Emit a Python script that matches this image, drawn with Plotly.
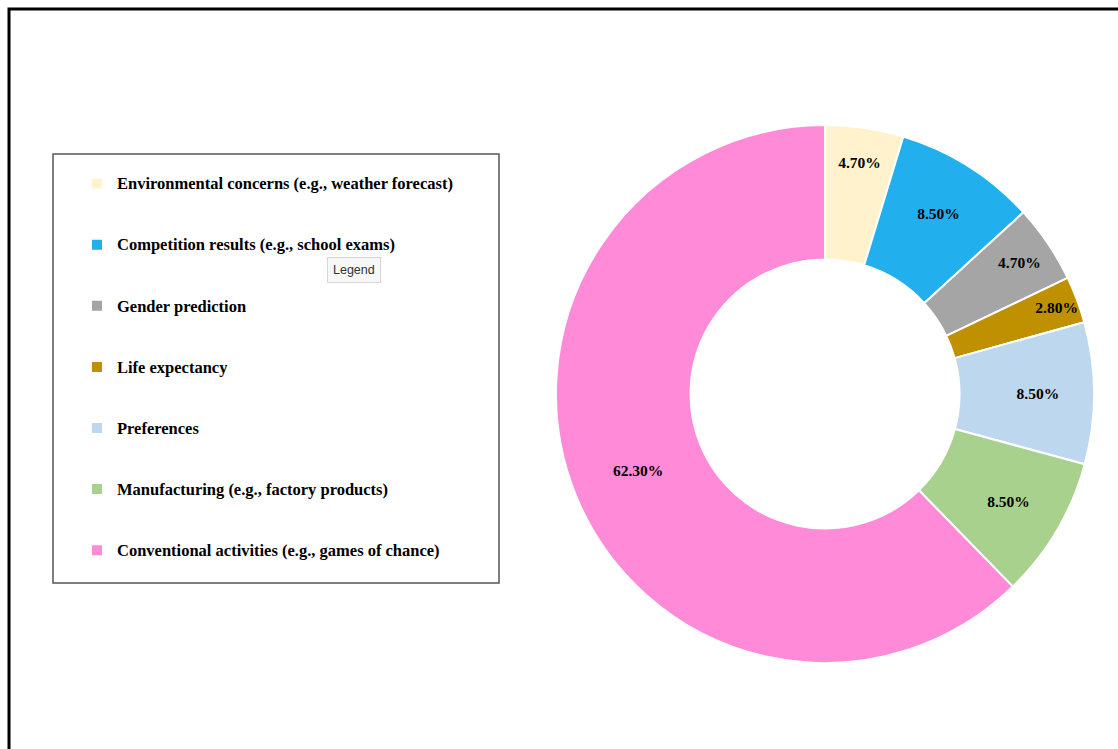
import plotly.graph_objects as go

categories = [
    "Environmental concerns (e.g., weather forecast)",
    "Competition results (e.g., school exams)",
    "Gender prediction",
    "Life expectancy",
    "Preferences",
    "Manufacturing (e.g., factory products)",
    "Conventional activities (e.g., games of chance)",
]
values = [4.7, 8.5, 4.7, 2.8, 8.5, 8.5, 62.3]
colors = ["#FFF2CC", "#22AFEE", "#A5A5A5", "#BF9000", "#BDD7EE", "#A9D18E", "#FF8AD8"]

W, H = 1118, 749

def px(x):
    return x / W

def py(y):
    return 1 - y / H

legend_labels = ["&nbsp;<br><span style='font-size:16.5px'>" + c + "</span><br>&nbsp;" for c in categories]

fig = go.Figure()
fig.add_trace(go.Pie(
    labels=legend_labels,
    values=values,
    hovertext=categories,
    hoverinfo="text+percent",
    sort=False,
    direction="clockwise",
    rotation=0,
    hole=0.5,
    marker=dict(colors=colors, line=dict(color="white", width=2)),
    texttemplate="%{value:.2f}%",
    textposition="inside",
    insidetextorientation="horizontal",
    textfont=dict(family="Liberation Serif", size=15.5, color="black", weight="bold"),
    domain=dict(x=[px(556), px(1094)], y=[py(663), py(125)]),
))

fig.update_layout(
    width=W, height=H,
    margin=dict(l=0, r=0, t=0, b=0),
    paper_bgcolor="white",
    plot_bgcolor="white",
    uniformtext=dict(minsize=15.5, mode="show"),
    showlegend=True,
    legend=dict(
        x=px(77), y=py(148), xanchor="left", yanchor="top",
        font=dict(family="Liberation Serif", size=14.9, color="black", weight="bold"),
        bgcolor="rgba(0,0,0,0)", borderwidth=0,
        itemclick=False, itemdoubleclick=False,
    ),
    shapes=[
        dict(type="rect", xref="paper", yref="paper",
             x0=px(53), x1=px(499), y0=py(583), y1=py(154),
             line=dict(color="#555555", width=1.5), fillcolor="rgba(0,0,0,0)", layer="below"),
        dict(type="rect", xref="paper", yref="paper",
             x0=px(9), x1=1.05, y0=-0.05, y1=py(9),
             line=dict(color="black", width=3), fillcolor="rgba(0,0,0,0)"),
    ],
    annotations=[
        dict(text="Legend", x=px(354), y=py(270), xref="paper", yref="paper",
             xanchor="center", yanchor="middle",
             showarrow=False, font=dict(family="Liberation Sans", size=12.5, color="#333333"),
             bgcolor="#F7F7F7", bordercolor="#D6D6D6", borderwidth=1, borderpad=5),
    ],
)

fig.write_html(
    "out.html",
    config={"displayModeBar": False},
    post_script="document.documentElement.style.margin='0';document.body.style.margin='0';document.body.style.overflow='hidden';",
)
